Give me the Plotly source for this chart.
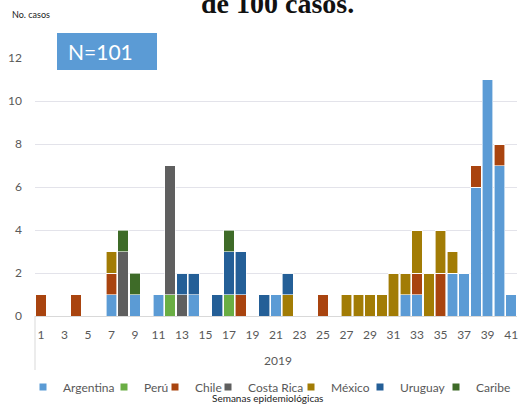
import plotly.graph_objects as go

weeks = list(range(1, 42))

def series(d):
    return [d.get(w, 0) for w in weeks]

argentina = series({7: 1, 9: 1, 11: 1, 14: 1, 21: 1, 32: 1, 33: 1, 36: 2, 37: 2, 38: 6, 39: 11, 40: 7, 41: 1})
peru = series({12: 1, 17: 1})
chile = series({1: 1, 4: 1, 7: 1, 18: 1, 25: 1, 33: 1, 35: 2, 38: 1, 40: 1})
costa_rica = series({8: 3, 12: 6, 13: 1})
mexico = series({7: 1, 22: 1, 27: 1, 28: 1, 29: 1, 30: 1, 31: 2, 32: 1, 33: 2, 34: 2, 35: 2, 36: 1})
uruguay = series({13: 1, 14: 1, 16: 1, 17: 2, 18: 2, 20: 1, 22: 1})
caribe = series({8: 1, 9: 1, 17: 1})

names = ["Argentina", "Perú", "Chile", "Costa Rica", "México", "Uruguay", "Caribe"]
values = [argentina, peru, chile, costa_rica, mexico, uruguay, caribe]
colors = ["#5B9BD5", "#6AAE44", "#A9440F", "#5F5F5F", "#A27C05", "#245F97", "#3E6B28"]

tick_vals = list(range(1, 42, 2))
y_ticks = list(range(0, 13, 2))

# layout geometry (pixels)
W, H = 519, 404
L, R, T, B = 35, 2, 58, 88
PW, PH = W - L - R, H - T - B

def px(x):
    return (x - L) / PW

def py(y):
    return (H - B - y) / PH

legend_text_left = [57, 138, 189, 242, 325, 394, 470]

fig = go.Figure()
for n, v, c in zip(names, values, colors):
    fig.add_trace(go.Bar(x=weeks, y=v, name=n, showlegend=False,
                         marker=dict(color=c, line=dict(color="white", width=0.6))))

font_main = "Lato, Open Sans, sans-serif"
legends = {}
for i, (n, c) in enumerate(zip(names, colors)):
    key = "legend" if i == 0 else f"legend{i + 1}"
    fig.add_trace(go.Scatter(x=[None], y=[None], mode="markers", name=n, showlegend=True,
                             marker=dict(symbol="square", size=7, color=c), legend=key))
    legends[key] = dict(orientation="h", x=px(legend_text_left[i] - 34), xanchor="left",
                        y=py(387), yanchor="middle", font=dict(size=12, color="#595959"),
                        itemwidth=30, bgcolor="rgba(0,0,0,0)", borderwidth=0)

fig.update_layout(
    width=W, height=H,
    barmode="stack", bargap=0.1,
    plot_bgcolor="white", paper_bgcolor="white",
    margin=dict(l=L, r=R, t=T, b=B, autoexpand=False),
    font=dict(family=font_main, color="#595959", size=12),
    xaxis=dict(range=[0.5, 41.5], tickmode="array", tickvals=tick_vals, ticktext=[str(t) for t in tick_vals],
               showgrid=False, showline=True, linecolor="#D9D9D9", ticks="", automargin=False,
               ticklabelstandoff=8, tickfont=dict(size=12, color="#595959")),
    yaxis=dict(range=[0, 12], tickvals=y_ticks, showgrid=True, gridcolor="#E3E3EA", zeroline=False,
               showline=False, automargin=False, tickfont=dict(size=12, color="#595959"),
               ticklabelstandoff=12),
    showlegend=True,
    **legends,
)

fig.add_shape(type="line", xref="paper", yref="paper", x0=0, x1=0, y0=0, y1=py(370),
              line=dict(color="#D9D9D9", width=1))
fig.add_shape(type="rect", xref="paper", yref="paper", x0=px(57), x1=px(157), y0=py(70), y1=py(33),
              fillcolor="#5B9BD5", line=dict(width=0))

fig.add_annotation(text="<b>de 100 casos.</b>", xref="paper", yref="paper", x=px(277), y=py(12),
                   xanchor="center", yanchor="bottom", showarrow=False, yshift=-9,
                   font=dict(family="Liberation Serif, serif", size=28, color="#111111"))
fig.add_annotation(text="No. casos", xref="paper", yref="paper", x=px(10), y=py(15),
                   xanchor="left", yanchor="middle", showarrow=False,
                   font=dict(size=9, color="#222222"))
fig.add_annotation(text="N=101", xref="paper", yref="paper", x=px(66), y=py(51.5),
                   xanchor="left", yanchor="middle", showarrow=False,
                   font=dict(size=21, color="white"))
fig.add_annotation(text="2019", xref="paper", yref="paper", x=px(278), y=py(360),
                   xanchor="center", yanchor="middle", showarrow=False,
                   font=dict(size=12, color="#595959"))
fig.add_annotation(text="Semanas epidemiológicas", xref="paper", yref="paper", x=px(267), y=py(398),
                   xanchor="center", yanchor="middle", showarrow=False,
                   font=dict(size=10, color="#222222"))

fig.write_html("out.html", config={"displayModeBar": False},
               post_script="document.body.style.margin='0';document.body.style.overflow='hidden';")
